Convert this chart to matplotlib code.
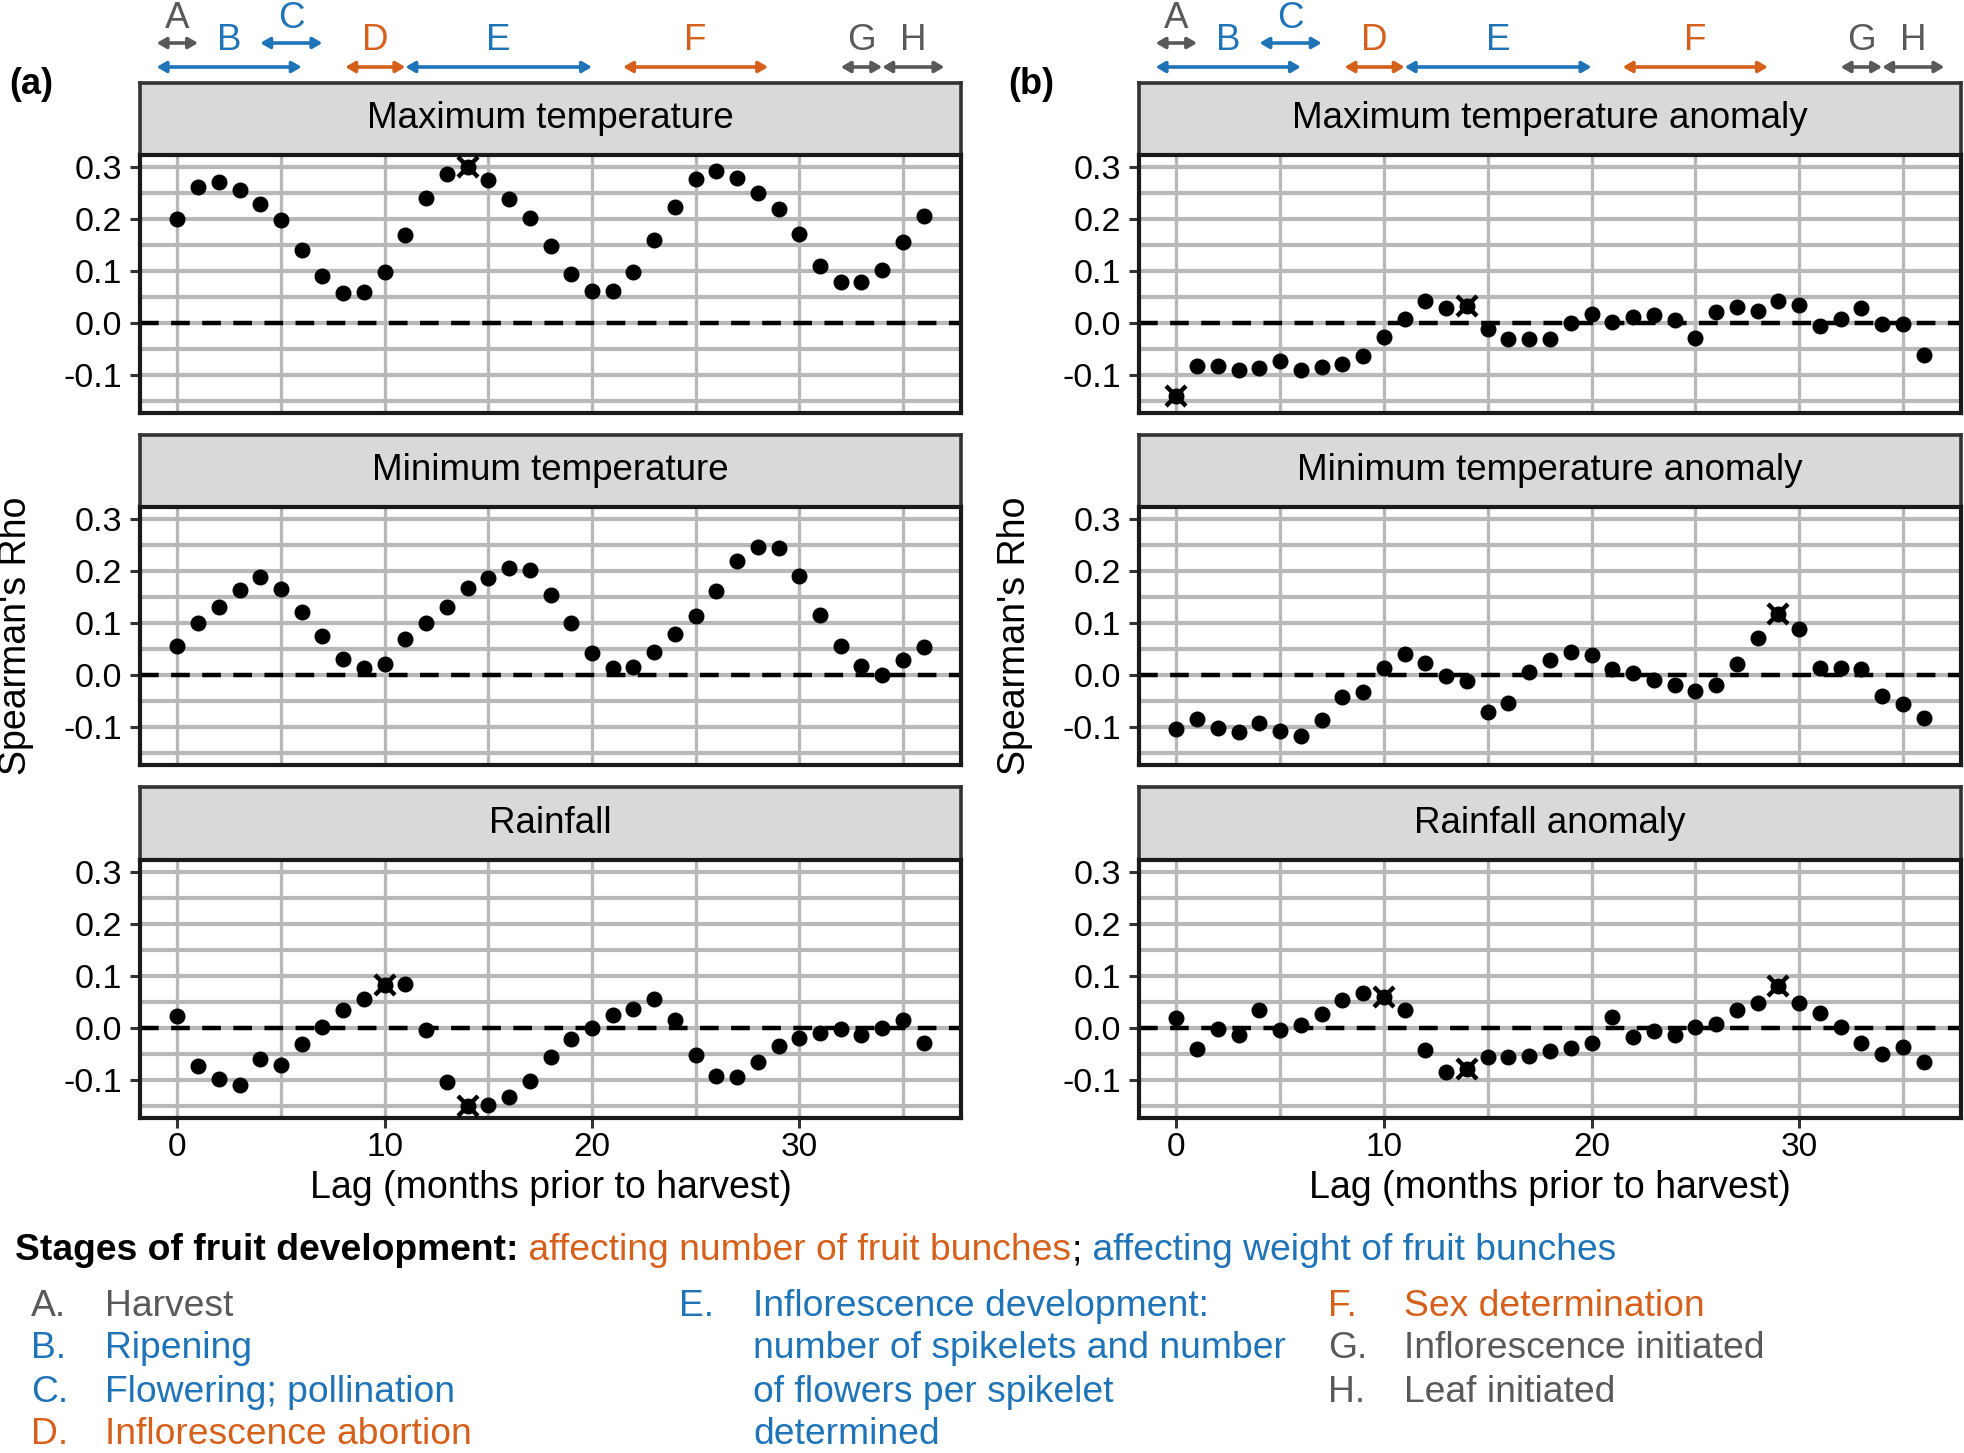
import numpy as np
import matplotlib
matplotlib.use("Agg")
import matplotlib.pyplot as plt
import matplotlib.transforms as mtransforms
from matplotlib.text import Annotation

plt.rcParams['font.family'] = ['Liberation Sans', 'DejaVu Sans']

# lag in months prior to harvest
lags = np.arange(0, 37)

max_temp = [0.200, 0.261, 0.270, 0.255, 0.229, 0.198, 0.140, 0.091, 0.057, 0.059,
            0.098, 0.169, 0.240, 0.286, 0.300, 0.274, 0.238, 0.202, 0.148, 0.095,
            0.062, 0.061, 0.098, 0.159, 0.222, 0.276, 0.291, 0.279, 0.249, 0.219,
            0.170, 0.110, 0.078, 0.078, 0.101, 0.155, 0.206]
min_temp = [0.056, 0.099, 0.131, 0.163, 0.188, 0.166, 0.122, 0.075, 0.031, 0.013,
            0.022, 0.070, 0.100, 0.130, 0.167, 0.186, 0.206, 0.202, 0.154, 0.100,
            0.042, 0.013, 0.016, 0.045, 0.078, 0.113, 0.161, 0.219, 0.245, 0.243,
            0.190, 0.115, 0.055, 0.017, 0.000, 0.029, 0.053]
rainfall = [0.023, -0.072, -0.097, -0.109, -0.060, -0.071, -0.030, 0.003, 0.034, 0.056,
            0.083, 0.085, -0.003, -0.103, -0.150, -0.148, -0.133, -0.102, -0.055, -0.021,
            0.001, 0.026, 0.037, 0.055, 0.015, -0.052, -0.091, -0.094, -0.065, -0.035,
            -0.019, -0.010, -0.002, -0.014, 0.001, 0.015, -0.028]
max_temp_anom = [-0.140, -0.082, -0.083, -0.090, -0.086, -0.072, -0.090, -0.085, -0.079, -0.063,
                 -0.026, 0.008, 0.043, 0.028, 0.033, -0.011, -0.031, -0.031, -0.031, 0.001,
                 0.018, 0.003, 0.012, 0.016, 0.006, -0.028, 0.021, 0.030, 0.024, 0.042,
                 0.035, -0.006, 0.007, 0.029, -0.001, -0.002, -0.061]
min_temp_anom = [-0.104, -0.084, -0.102, -0.110, -0.091, -0.107, -0.117, -0.087, -0.042, -0.033,
                 0.014, 0.040, 0.024, -0.001, -0.011, -0.070, -0.054, 0.006, 0.029, 0.045,
                 0.039, 0.012, 0.004, -0.009, -0.019, -0.031, -0.019, 0.021, 0.072, 0.118,
                 0.088, 0.014, 0.013, 0.011, -0.040, -0.056, -0.083]
rainfall_anom = [0.019, -0.040, -0.001, -0.014, 0.034, -0.003, 0.005, 0.027, 0.054, 0.068,
                 0.059, 0.035, -0.042, -0.085, -0.079, -0.055, -0.055, -0.054, -0.043, -0.039,
                 -0.029, 0.021, -0.018, -0.006, -0.014, 0.003, 0.007, 0.035, 0.048, 0.080,
                 0.048, 0.029, 0.003, -0.028, -0.050, -0.037, -0.066]

# lags flagged as significant (dot with a cross)
sig_max_temp = [14]
sig_min_temp = []
sig_rainfall = [10, 14]
sig_max_temp_anom = [0, 14]
sig_min_temp_anom = [29]
sig_rainfall_anom = [10, 14, 29]

left_titles = ["Maximum temperature", "Minimum temperature", "Rainfall"]
right_titles = ["Maximum temperature anomaly", "Minimum temperature anomaly", "Rainfall anomaly"]

# stages of fruit development (arrows above the panels)
stage_letters = ["A", "B", "C", "D", "E", "F", "G", "H"]
stage_start = [-1, -1, 4, 8.1, 11, 21.5, 32, 34]
stage_end = [1, 6, 7, 11, 20, 28.5, 34, 37]
stage_row = [0, 1, 0, 1, 1, 1, 1, 1]
stage_kind = ["other", "weight", "weight", "number", "weight", "number", "other", "other"]
stage_text = ["Harvest", "Ripening", "Flowering; pollination", "Inflorescence abortion",
              "Inflorescence development:\nnumber of spikelets and number\nof flowers per spikelet\ndetermined",
              "Sex determination", "Inflorescence initiated", "Leaf initiated"]

GRAY = "#595959"
BLUE = "#1f73b7"
ORANGE = "#d5601c"
kind_color = {"other": GRAY, "weight": BLUE, "number": ORANGE}

W, H = 1965, 1453
fig = plt.figure(figsize=(W / 100, H / 100), dpi=100)


def rect(x0, y0, x1, y1):
    # pixel box (top-left origin) -> figure fraction
    return [x0 / W, 1 - y1 / H, (x1 - x0) / W, (y1 - y0) / H]


col_x = [(140, 961), (1139, 1961)]
strip_y = [(83, 155), (435, 507), (787, 860)]
plot_y = [(155, 413), (507, 765), (860, 1118)]

panels = [
    [(max_temp, sig_max_temp), (min_temp, sig_min_temp), (rainfall, sig_rainfall)],
    [(max_temp_anom, sig_max_temp_anom), (min_temp_anom, sig_min_temp_anom), (rainfall_anom, sig_rainfall_anom)],
]
titles = [left_titles, right_titles]

top_axes = []
for c in range(2):
    x0, x1 = col_x[c]
    for r in range(3):
        # strip with panel title
        sax = fig.add_axes(rect(x0, strip_y[r][0], x1, strip_y[r][1]))
        sax.set_facecolor("#d9d9d9")
        sax.set_xticks([])
        sax.set_yticks([])
        for s in sax.spines.values():
            s.set_color("#333333")
            s.set_linewidth(2.6)
        sax.text(0.5, 0.5, titles[c][r], ha="center", va="center", fontsize=26.5, transform=sax.transAxes)

        ax = fig.add_axes(rect(x0, plot_y[r][0], x1, plot_y[r][1]))
        vals, sig = panels[c][r]
        ax.set_xlim(-1.8, 37.8)
        ax.set_ylim(-0.1725, 0.3225)
        ax.set_yticks([-0.1, 0.0, 0.1, 0.2, 0.3])
        ax.set_yticklabels(["-0.1", "0.0", "0.1", "0.2", "0.3"])
        ax.set_yticks([-0.15, -0.05, 0.05, 0.15, 0.25], minor=True)
        ax.set_xticks([0, 10, 20, 30])
        ax.set_xticks([5, 15, 25, 35], minor=True)
        ax.grid(which="both", axis="y", color="#b8b8b8", lw=3.0, zorder=0)
        ax.grid(which="both", axis="x", color="#b8b8b8", lw=2.4, zorder=0)
        ax.set_axisbelow(True)
        ax.axhline(0, color="black", lw=3.2, ls=(0, (4.2, 2.8)), zorder=2)
        ax.plot(lags, vals, "o", color="black", ms=10.5, zorder=3)
        if sig:
            ax.plot(lags[sig], np.array(vals)[sig], "x", color="black", ms=14, mew=3.2, zorder=4)
        for s in ax.spines.values():
            s.set_color("#1a1a1a")
            s.set_linewidth(3)
        ax.tick_params(axis="y", which="major", length=7, width=2.2, color="#333333",
                       labelsize=24.5, pad=6)
        ax.tick_params(axis="y", which="minor", length=0)
        ax.tick_params(axis="x", which="minor", length=0)
        if r < 2:
            ax.tick_params(axis="x", which="major", length=0, labelbottom=False)
        else:
            ax.tick_params(axis="x", which="major", length=7, width=2.2, color="#333333",
                           labelsize=24, pad=3)
            ax.set_xlabel("Lag (months prior to harvest)", fontsize=27, labelpad=5)
        if r == 0:
            top_axes.append(ax)

# y axis titles, one per column
for xpix in [16, 1015]:
    fig.text(xpix / W, 1 - 636 / H, "Spearman's Rho", rotation=90, fontsize=27,
             ha="center", va="center")

# stage arrows and letters above each column
row_arrow_y = [1 - 43 / H, 1 - 67 / H]
row_label_y = [1 - 18 / H, 1 - 41 / H]
for ax in top_axes:
    trans = mtransforms.blended_transform_factory(ax.transData, fig.transFigure)
    for i in range(len(stage_letters)):
        col = kind_color[stage_kind[i]]
        ya = row_arrow_y[stage_row[i]]
        ax.annotate("", xy=(stage_end[i], ya), xytext=(stage_start[i], ya),
                    xycoords=trans, textcoords=trans, annotation_clip=False,
                    arrowprops=dict(arrowstyle="<|-|>,head_length=0.55,head_width=0.32",
                                    color=col, lw=2.6, shrinkA=0, shrinkB=0))
        ax.text((stage_start[i] + stage_end[i]) / 2, row_label_y[stage_row[i]], stage_letters[i],
                transform=trans, ha="center", va="center", fontsize=26.5, color=col)

fig.text(31 / W, 1 - 85 / H, "(a)", fontsize=26, fontweight="bold", ha="center", va="center")
fig.text(1031 / W, 1 - 85 / H, "(b)", fontsize=26, fontweight="bold", ha="center", va="center")

# legend text
t1 = fig.text(15 / W, 1 - 1251 / H, "Stages of fruit development:", fontsize=26.8, fontweight="bold",
              ha="left", va="center")
parts = [(" affecting number of fruit bunches", ORANGE), (";", "black"),
         (" affecting weight of fruit bunches", BLUE)]
prev = t1
for txt, col in parts:
    a = Annotation(txt, xy=(1, 0), xycoords=prev, ha="left", va="bottom", fontsize=26.8, color=col)
    fig.add_artist(a)
    prev = a

row_y = [1306, 1349, 1392, 1435]
letter_x = [31, 679, 1328]
text_x = [105, 753, 1404]
layout = {"A": (0, 0), "B": (0, 1), "C": (0, 2), "D": (0, 3), "E": (1, 0),
          "F": (2, 0), "G": (2, 1), "H": (2, 2)}
for i, L in enumerate(stage_letters):
    col_i, row_i = layout[L]
    col = kind_color[stage_kind[i]]
    fig.text(letter_x[col_i] / W, 1 - row_y[row_i] / H, L + ".", fontsize=26.8, color=col,
             ha="left", va="center")
    for j, line in enumerate(stage_text[i].split("\n")):
        fig.text(text_x[col_i] / W, 1 - row_y[row_i + j] / H, line, fontsize=26.8, color=col,
                 ha="left", va="center")

fig.savefig("out.png", dpi=100)
